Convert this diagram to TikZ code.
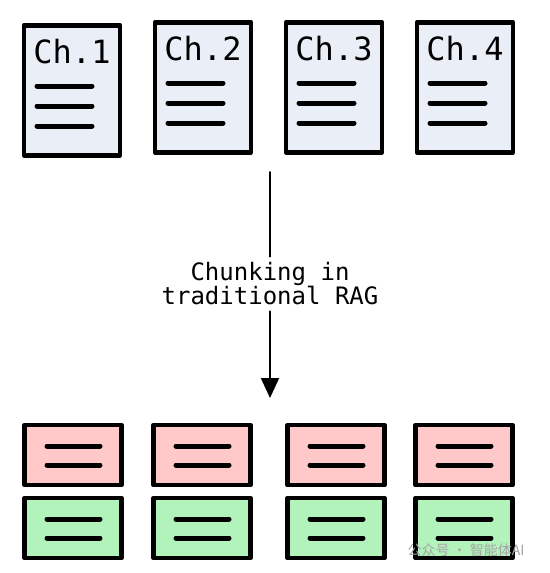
\documentclass[tikz,border=0pt]{standalone}
\usepackage{fontspec}
\setmonofont{DejaVu Sans Mono}
\newfontfamily\cjk{Noto Sans CJK SC}
\usetikzlibrary{arrows.meta,positioning}
\definecolor{docfill}{HTML}{EAEFF7}
\definecolor{chunkred}{HTML}{FFC9C9}
\definecolor{chunkgreen}{HTML}{B2F2BB}
\begin{document}
\begin{tikzpicture}[x=1pt,y=-1pt,line join=round,line cap=round,font=\ttfamily,
	doc/.style={draw,line width=4.5pt,fill=docfill,minimum width=96pt,minimum height=130pt,inner sep=0pt},
	chunk/.style={draw,line width=4.5pt,minimum width=97pt,minimum height=60pt,inner sep=0pt},
	txtline/.style={line width=5pt}]
	\useasboundingbox (0,0) rectangle (549,573);
	% chapters
	\foreach \i/\x/\t in {1/72/23,2/203/20,3/334/20,4/465/20}{
		\node[doc,anchor=north] (ch\i) at (\x,\t) {};
		\node[below=13pt of ch\i.north,font=\ttfamily\fontsize{32}{32}\selectfont] (lbl\i) {Ch.\i};
		\foreach \k in {63,83,103}
			\draw[txtline] (\x-35,\t+\k)--(\x+20,\t+\k);
	}
	% arrow
	\coordinate (start) at (270,172);
	\coordinate (end) at (270,398);
	\node[align=center,inner sep=6pt,font=\ttfamily\fontsize{24}{24}\selectfont] (step) at (270,284) {Chunking in\\traditional RAG};
	\draw[line width=2pt] (start)--(step);
	\draw[line width=2pt,-{Triangle[length=20pt,width=18pt]}] (step)--(end);
	% chunks
	\foreach \i/\x in {1/73,2/202,3/336,4/464}{
		\node[chunk,fill=chunkred] (r\i) at (\x,455) {};
		\node[chunk,fill=chunkgreen] (g\i) at (\x,528) {};
		\foreach \k in {446,465,519,538}
			\draw[txtline] (\x-26,\k)--(\x+27,\k);
	}
	\node[anchor=west,text=gray!70,font=\cjk\fontsize{14}{14}\selectfont] (wm) at (404,550) {公众号 · 智能体AI};
\end{tikzpicture}
\end{document}
